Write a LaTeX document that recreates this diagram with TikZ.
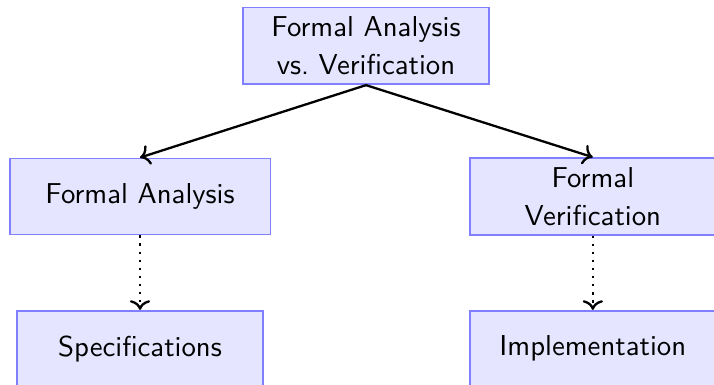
\documentclass[tikz,border=0pt]{standalone}
\usepackage{tikz}
\usetikzlibrary{arrows.meta}
\renewcommand{\sf}{\sffamily}

\begin{document}
\begin{tikzpicture}[box/.style={draw=blue!50,fill=blue!10,semithick,text width=2.77cm,align=center,minimum height=0.93cm,font=\sf\fontsize{10}{13}\selectfont}]
   \useasboundingbox (0,0) rectangle (8.72,-4.69);
   \node[box] (top) at (4.47,-0.56) {Formal Analysis\\vs.\ Verification};
   \node[box,text width=2.95cm] (ana) at (1.71,-2.40) {Formal Analysis};
   \node[box] (ver) at (7.24,-2.40) {Formal\\Verification};
   \node[box] (spec) at (1.71,-4.26) {Specifications};
   \node[box] (impl) at (7.24,-4.26) {Implementation};
   \draw[-{To},thick] (top.south) -- (ana.north);
   \draw[-{To},thick] (top.south) -- (ver.north);
   \draw[-{To},thick,dotted] (ana.south) -- (spec.north);
   \draw[-{To},thick,dotted] (ver.south) -- (impl.north);
  \end{tikzpicture}
\end{document}
